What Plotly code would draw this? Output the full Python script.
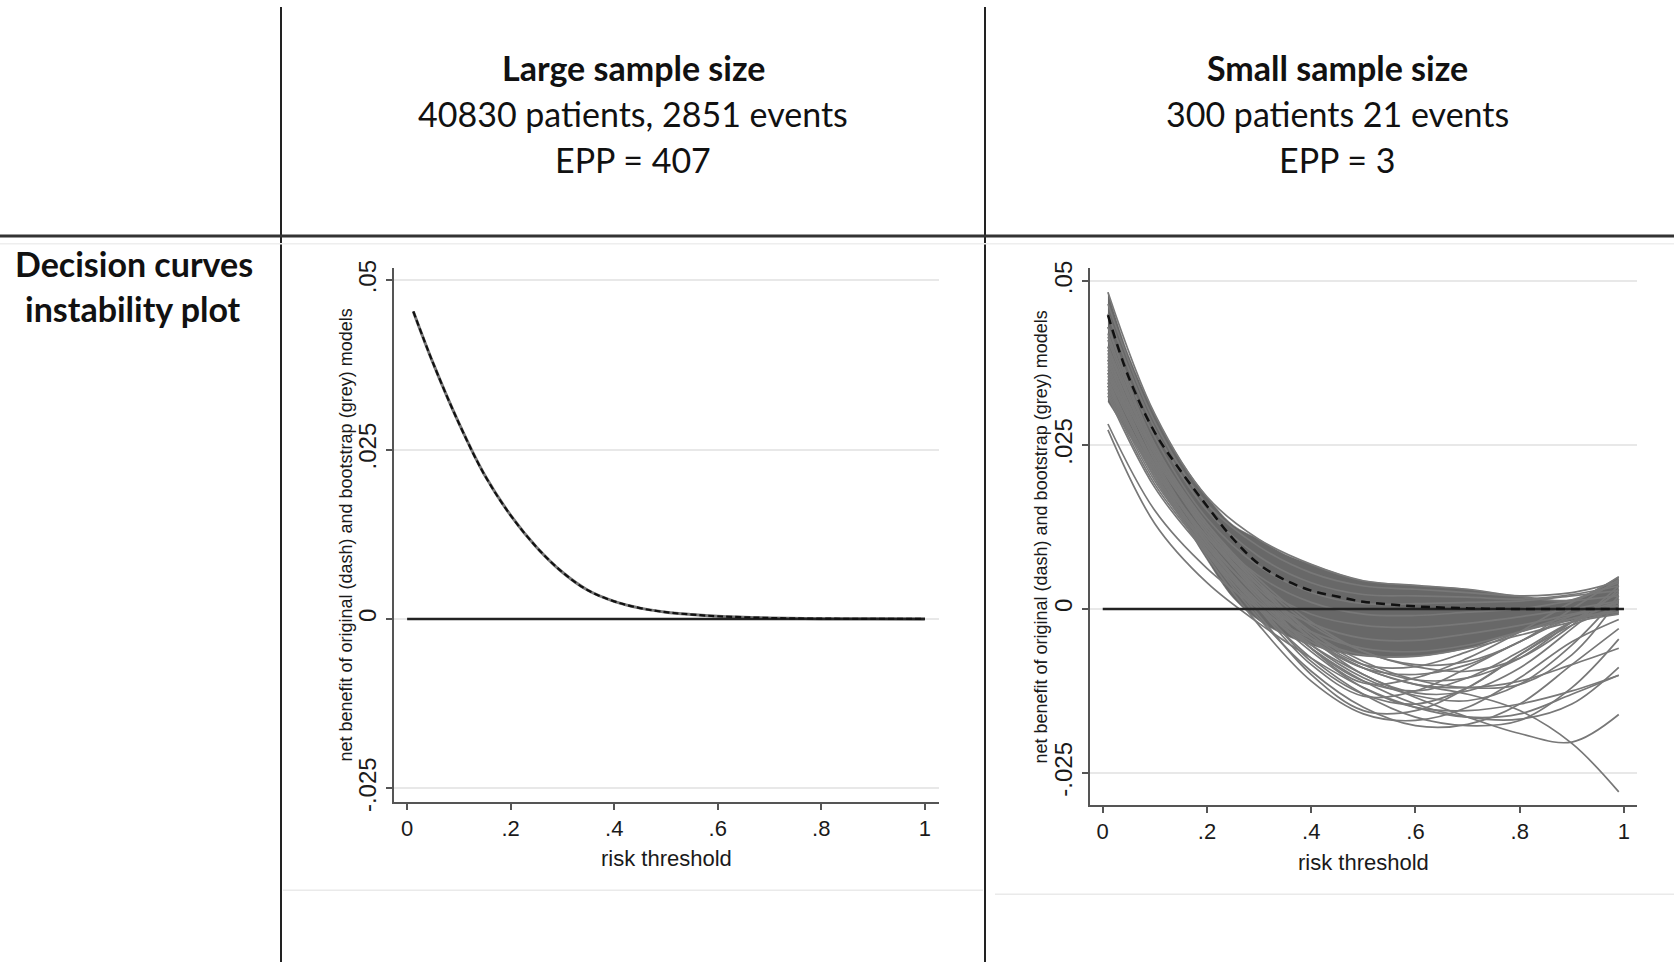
import plotly.graph_objects as go

# ---------------- data ----------------
# Left panel (large sample): original model net benefit (bootstrap curves coincide)
left_x = [0.012, 0.05, 0.1, 0.15, 0.2, 0.25, 0.3, 0.35, 0.4, 0.45, 0.5, 0.55, 0.6, 0.7, 0.8, 0.9, 1.0]
left_nb = [0.0454, 0.0378, 0.0289, 0.0212, 0.0153, 0.0106, 0.0069, 0.0042, 0.0026, 0.0016,
           0.0010, 0.00065, 0.0004, 0.00015, 0.00005, 0.00002, 0.0]

# Treat-none reference line
none_x = [0.0, 1.0]
none_nb = [0.0, 0.0]

# Right panel (small sample): original model (dashed)
right_orig_x = [0.01, 0.05, 0.1, 0.15, 0.2, 0.25, 0.3, 0.35, 0.4, 0.45, 0.5, 0.6, 0.7, 0.8, 0.9, 0.99]
right_orig_nb = [0.0448, 0.0353, 0.0269, 0.0210, 0.0157, 0.0107, 0.0068, 0.0044, 0.0028, 0.0019,
                 0.0011, 0.0004, 0.0001, 0.0, 0.0, 0.0]

# Dense core of bootstrap curves: upper and lower envelope
band_x = [0.01, 0.05, 0.1, 0.15, 0.2, 0.25, 0.3, 0.35, 0.4, 0.45, 0.5, 0.6, 0.7, 0.8, 0.9, 0.95, 0.99]
band_upper = [0.0483, 0.0386, 0.0297, 0.0226, 0.0171, 0.0128, 0.0106, 0.0083, 0.0068, 0.0054,
              0.0043, 0.0036, 0.0030, 0.0019, 0.0014, 0.0031, 0.0049]
band_lower = [0.0316, 0.0266, 0.0205, 0.0140, 0.0075, 0.0017, -0.0018, -0.0040, -0.0055, -0.0066,
              -0.0072, -0.0073, -0.0060, -0.0035, -0.0018, -0.0012, -0.0008]

# Individual bootstrap curves (net benefit at boot_x)
boot_x = [0.01, 0.1, 0.2, 0.3, 0.4, 0.5, 0.6, 0.7, 0.8, 0.9, 0.99]
boot_u1 = [0.0483, 0.0297, 0.0171, 0.0106, 0.0068, 0.0043, 0.0036, 0.0030, 0.0019, 0.0014, 0.0049]
boot_u2 = [0.0465, 0.0285, 0.0160, 0.0095, 0.0055, 0.0035, 0.0030, 0.0025, 0.0020, 0.0025, 0.0042]
boot_u3 = [0.0450, 0.0275, 0.0150, 0.0080, 0.0040, 0.0022, 0.0020, 0.0018, 0.0015, 0.0022, 0.0035]
boot_u4 = [0.0430, 0.0262, 0.0138, 0.0065, 0.0025, 0.0008, 0.0008, 0.0010, 0.0012, 0.0020, 0.0028]
boot_u5 = [0.0415, 0.0250, 0.0125, 0.0050, 0.0010, -0.0008, -0.0010, -0.0005, 0.0000, 0.0012, 0.0020]
boot_u6 = [0.0400, 0.0240, 0.0115, 0.0035, -0.0008, -0.0025, -0.0028, -0.0022, -0.0012, 0.0000, 0.0012]
boot_u7 = [0.0380, 0.0228, 0.0105, 0.0022, -0.0022, -0.0045, -0.0048, -0.0038, -0.0025, -0.0008, 0.0005]
boot_u8 = [0.0360, 0.0215, 0.0095, 0.0010, -0.0035, -0.0060, -0.0065, -0.0055, -0.0035, -0.0015, -0.0005]
boot_u9 = [0.0340, 0.0205, 0.0085, 0.0000, -0.0045, -0.0070, -0.0072, -0.0060, -0.0040, -0.0020, -0.0008]
boot_a = [0.0345, 0.0200, 0.0085, -0.0015, -0.0095, -0.0150, -0.0178, -0.0176, -0.0145, -0.0085, -0.0030]
boot_b = [0.0335, 0.0195, 0.0090, 0.0000, -0.0075, -0.0130, -0.0165, -0.0178, -0.0170, -0.0120, -0.0046]
boot_c = [0.0360, 0.0210, 0.0080, -0.0025, -0.0110, -0.0160, -0.0170, -0.0150, -0.0105, -0.0050, -0.0016]
boot_d = [0.0330, 0.0190, 0.0088, 0.0005, -0.0060, -0.0110, -0.0145, -0.0165, -0.0168, -0.0145, -0.0089]
boot_e = [0.0380, 0.0215, 0.0090, -0.0010, -0.0100, -0.0155, -0.0155, -0.0120, -0.0070, -0.0025, 0.0000]
boot_f = [0.0325, 0.0185, 0.0085, 0.0005, -0.0065, -0.0120, -0.0150, -0.0155, -0.0145, -0.0125, -0.0101]
boot_g = [0.0340, 0.0200, 0.0095, 0.0010, -0.0055, -0.0100, -0.0135, -0.0165, -0.0190, -0.0203, -0.0161]
boot_h = [0.0350, 0.0205, 0.0100, 0.0020, -0.0045, -0.0090, -0.0115, -0.0130, -0.0155, -0.0205, -0.0279]
boot_i = [0.0370, 0.0220, 0.0100, 0.0005, -0.0080, -0.0130, -0.0145, -0.0120, -0.0070, -0.0020, 0.0010]
boot_j = [0.0355, 0.0215, 0.0105, 0.0015, -0.0055, -0.0105, -0.0132, -0.0140, -0.0115, -0.0055, 0.0020]
boot_k = [0.0390, 0.0225, 0.0100, 0.0000, -0.0085, -0.0133, -0.0125, -0.0090, -0.0050, -0.0015, -0.0005]
boot_l = [0.0365, 0.0220, 0.0110, 0.0025, -0.0045, -0.0100, -0.0128, -0.0125, -0.0090, -0.0030, 0.0030]
boot_m = [0.0400, 0.0235, 0.0115, 0.0020, -0.0060, -0.0110, -0.0125, -0.0105, -0.0065, -0.0020, 0.0000]
boot_n = [0.0345, 0.0210, 0.0110, 0.0030, -0.0035, -0.0080, -0.0108, -0.0120, -0.0115, -0.0070, 0.0015]
boot_o = [0.0410, 0.0240, 0.0120, 0.0025, -0.0060, -0.0113, -0.0105, -0.0075, -0.0035, 0.0010, 0.0040]
boot_p = [0.0375, 0.0230, 0.0120, 0.0035, -0.0035, -0.0085, -0.0108, -0.0105, -0.0075, -0.0020, 0.0025]
boot_q = [0.0420, 0.0245, 0.0125, 0.0035, -0.0045, -0.0090, -0.0100, -0.0085, -0.0050, -0.0010, 0.0010]
boot_r = [0.0385, 0.0235, 0.0125, 0.0040, -0.0025, -0.0065, -0.0088, -0.0095, -0.0075, -0.0025, 0.0035]
boot_s = [0.0430, 0.0250, 0.0130, 0.0040, -0.0040, -0.0085, -0.0088, -0.0065, -0.0035, -0.0010, 0.0005]
boot_t = [0.0395, 0.0240, 0.0130, 0.0045, -0.0020, -0.0065, -0.0085, -0.0080, -0.0050, 0.0000, 0.0045]
boot_o1 = [0.0282, 0.0150, 0.0062, 0.0000, -0.0050, -0.0090, -0.0115, -0.0120, -0.0110, -0.0085, -0.0060]
boot_o2 = [0.0273, 0.0130, 0.0040, -0.0022, -0.0075, -0.0120, -0.0150, -0.0165, -0.0160, -0.0130, -0.0101]

boot_curves = [boot_u1, boot_u2, boot_u3, boot_u4, boot_u5, boot_u6, boot_u7, boot_u8, boot_u9,
               boot_a, boot_b, boot_c, boot_d, boot_e, boot_f, boot_g, boot_h, boot_i, boot_j,
               boot_k, boot_l, boot_m, boot_n, boot_o, boot_p, boot_q, boot_r, boot_s, boot_t,
               boot_o1, boot_o2]

x_tickvals = [0, 0.2, 0.4, 0.6, 0.8, 1]
x_ticktext = ["0", ".2", ".4", ".6", ".8", "1"]
y_tickvals = [-0.025, 0, 0.025, 0.05]
y_ticktext = ["-.025", "0", ".025", ".05"]

col_headers = ["Large sample size", "Small sample size"]
col_sub1 = ["40830 patients, 2851 events", "300 patients 21 events"]
col_sub2 = ["EPP = 407", "EPP = 3"]
row_label = ["Decision curves", "instability plot"]
x_title = "risk threshold"
y_title = "net benefit of original (dash) and bootstrap (grey) models"

# ---------------- figure ----------------
W, H = 1674, 972
GREY_BAND = "#686868"
GREY_LINE = "#787878"

fig = go.Figure()

# Left panel
fig.add_trace(go.Scatter(x=left_x, y=left_nb, mode="lines", line=dict(color=GREY_LINE, width=3, shape="spline"),
                         xaxis="x", yaxis="y", hoverinfo="skip"))
fig.add_trace(go.Scatter(x=none_x, y=none_nb, mode="lines", line=dict(color="#222222", width=2.5),
                         xaxis="x", yaxis="y", hoverinfo="skip"))
fig.add_trace(go.Scatter(x=left_x, y=left_nb, mode="lines",
                         line=dict(color="#111111", width=2.2, dash="6px,3px", shape="spline"),
                         xaxis="x", yaxis="y", hoverinfo="skip"))

# Right panel: dense band
fig.add_trace(go.Scatter(x=band_x, y=band_lower, mode="lines", line=dict(color=GREY_BAND, width=0.5, shape="spline"),
                         xaxis="x2", yaxis="y2", hoverinfo="skip"))
fig.add_trace(go.Scatter(x=band_x, y=band_upper, mode="lines", line=dict(color=GREY_BAND, width=0.5, shape="spline"),
                         fill="tonexty", fillcolor=GREY_BAND, xaxis="x2", yaxis="y2", hoverinfo="skip"))
for cv in boot_curves:
    fig.add_trace(go.Scatter(x=boot_x, y=cv, mode="lines", line=dict(color=GREY_LINE, width=1.7, shape="spline"),
                             xaxis="x2", yaxis="y2", hoverinfo="skip"))
fig.add_trace(go.Scatter(x=none_x, y=none_nb, mode="lines", line=dict(color="#222222", width=2.5),
                         xaxis="x2", yaxis="y2", hoverinfo="skip"))
fig.add_trace(go.Scatter(x=right_orig_x, y=right_orig_nb, mode="lines",
                         line=dict(color="#111111", width=2.5, dash="9px,6px", shape="spline"),
                         xaxis="x2", yaxis="y2", hoverinfo="skip"))

def px_x(v):
    return v / W

def px_y(v):
    return 1 - v / H

x_tick_font = dict(family="Liberation Sans, Arial, sans-serif", size=22, color="#1a1a1a")
y_tick_font = dict(family="Liberation Sans, Arial, sans-serif", size=24, color="#1a1a1a")
ax_common = dict(showline=True, linecolor="#555555", linewidth=1.6, ticks="outside", ticklen=6,
                 tickcolor="#555555", tickwidth=1.5, zeroline=False, mirror=False)

fig.update_layout(
    width=W, height=H, autosize=False,
    margin=dict(l=0, r=0, t=0, b=0),
    paper_bgcolor="white", plot_bgcolor="white",
    showlegend=False,
    xaxis=dict(domain=[px_x(393.6), px_x(939.2)], range=[-0.0261, 1.0278], anchor="y",
               tickvals=x_tickvals, ticktext=x_ticktext, showgrid=False, tickfont=x_tick_font, **ax_common),
    yaxis=dict(domain=[px_y(809.3), px_y(265.3)], range=[-0.02704, 0.05186], anchor="x",
               tickvals=y_tickvals, ticktext=y_ticktext, tickangle=-90, tickfont=y_tick_font,
               showgrid=True, gridcolor="#e8e8e8", gridwidth=1.5, **ax_common),
    xaxis2=dict(domain=[px_x(1089.7), px_x(1637.0)], range=[-0.025, 1.025], anchor="y2",
                tickvals=x_tickvals, ticktext=x_ticktext, showgrid=False, tickfont=x_tick_font, **ax_common),
    yaxis2=dict(domain=[px_y(812.5), px_y(265.3)], range=[-0.02994, 0.05204], anchor="x2",
                tickvals=y_tickvals, ticktext=y_ticktext, tickangle=-90, tickfont=y_tick_font,
                showgrid=True, gridcolor="#e8e8e8", gridwidth=1.5, **ax_common),
)

# Table lines
shapes = [
    dict(type="line", xref="paper", yref="paper", x0=px_x(281), x1=px_x(281), y0=0, y1=1,
         line=dict(color="#222222", width=2)),
    dict(type="line", xref="paper", yref="paper", x0=px_x(985), x1=px_x(985), y0=0, y1=1,
         line=dict(color="#222222", width=2)),
    dict(type="line", xref="paper", yref="paper", x0=0, x1=1, y0=px_y(233), y1=px_y(233),
         line=dict(color="#333333", width=3)),
    dict(type="line", xref="paper", yref="paper", x0=0, x1=1, y0=px_y(241), y1=px_y(241),
         line=dict(color="#eeeeee", width=1.5)),
    dict(type="line", xref="paper", yref="paper", x0=px_x(283), x1=px_x(983), y0=px_y(899), y1=px_y(899),
         line=dict(color="#eaeaea", width=1.5)),
    dict(type="line", xref="paper", yref="paper", x0=px_x(995), x1=px_x(1674), y0=px_y(903), y1=px_y(903),
         line=dict(color="#eaeaea", width=1.5)),
]
fig.update_layout(shapes=shapes)

head_font = "Lato, Noto Sans, sans-serif"
HS = 34
ann = []
col_centers = [633, 1337]
for i in range(2):
    ann.append(dict(x=px_x(col_centers[i]), y=px_y(62), xref="paper", yref="paper", showarrow=False,
                    text="<b>" + col_headers[i] + "</b>", font=dict(family=head_font, size=HS, color="#111111"),
                    xanchor="center", yanchor="middle"))
    ann.append(dict(x=px_x(col_centers[i]), y=px_y(108), xref="paper", yref="paper", showarrow=False,
                    text=col_sub1[i], font=dict(family=head_font, size=HS, color="#111111"),
                    xanchor="center", yanchor="middle"))
    ann.append(dict(x=px_x(col_centers[i]), y=px_y(155), xref="paper", yref="paper", showarrow=False,
                    text=col_sub2[i], font=dict(family=head_font, size=HS, color="#111111"),
                    xanchor="center", yanchor="middle"))
ann.append(dict(x=px_x(134), y=px_y(261), xref="paper", yref="paper", showarrow=False,
                text="<b>" + row_label[0] + "</b>", font=dict(family=head_font, size=HS, color="#111111"),
                xanchor="center", yanchor="middle"))
ann.append(dict(x=px_x(133), y=px_y(307), xref="paper", yref="paper", showarrow=False,
                text="<b>" + row_label[1] + "</b>", font=dict(family=head_font, size=HS, color="#111111"),
                xanchor="center", yanchor="middle"))

axis_title_font = dict(family="Liberation Sans, Arial, sans-serif", color="#1a1a1a")
ann.append(dict(x=px_x(666), y=px_y(867), xref="paper", yref="paper", showarrow=False, text=x_title,
                font=dict(size=22, **axis_title_font), xanchor="center", yanchor="middle"))
ann.append(dict(x=px_x(1363), y=px_y(871), xref="paper", yref="paper", showarrow=False, text=x_title,
                font=dict(size=22, **axis_title_font), xanchor="center", yanchor="middle"))
ann.append(dict(x=px_x(346), y=px_y(538), xref="paper", yref="paper", showarrow=False, text=y_title,
                textangle=-90, font=dict(size=18, **axis_title_font), xanchor="center", yanchor="middle"))
ann.append(dict(x=px_x(1041), y=px_y(540), xref="paper", yref="paper", showarrow=False, text=y_title,
                textangle=-90, font=dict(size=18, **axis_title_font), xanchor="center", yanchor="middle"))
fig.update_layout(annotations=ann)

fig.write_html("out.html")
